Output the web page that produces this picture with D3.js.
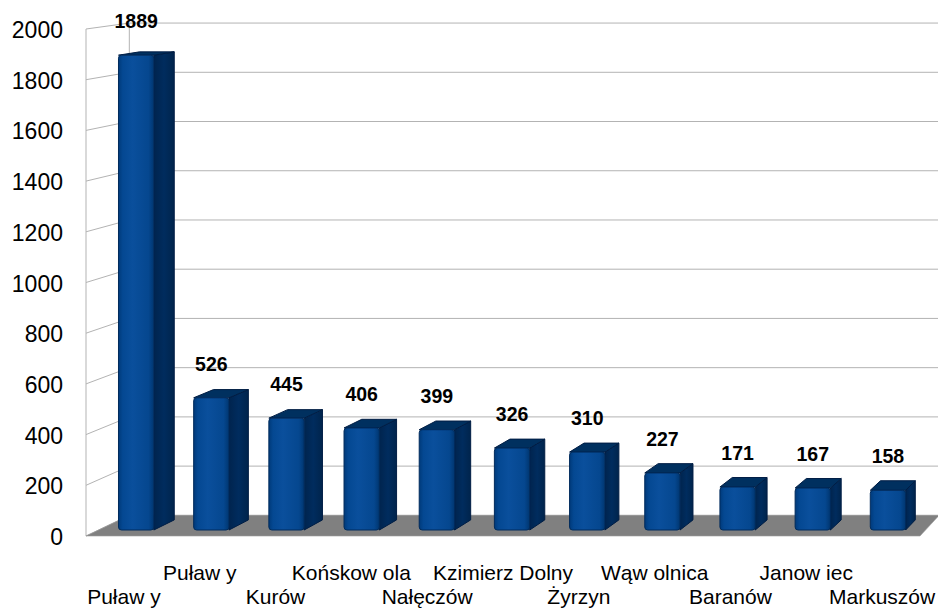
<!DOCTYPE html>
<html>
<head>
<meta charset="utf-8">
<script src="https://cdn.jsdelivr.net/npm/d3@7"></script>
<style>
  html, body { margin: 0; padding: 0; background: #fff; }
  svg { display: block; font-family: "Liberation Sans", Arial, sans-serif; }
</style>
</head>
<body>
<div id="chart"></div>
<script>
// data
const categories = ['Puław y', 'Puław y', 'Kurów', 'Końskow ola', 'Nałęczów', 'Kzimierz Dolny',
  'Żyrzyn', 'Wąw olnica', 'Baranów', 'Janow iec', 'Markuszów'];
const values = [1889, 526, 445, 406, 399, 326, 310, 227, 171, 167, 158];
const yTicks = [0, 200, 400, 600, 800, 1000, 1200, 1400, 1600, 1800, 2000];

const W = 938, H = 608;

// front plane of the 3D box + a simple perspective towards the back
const VP = { x: 1580, y: -176 };
const DEPTH = 0.029;
const BAR_Z = [0.29, 0.78];

function project(xf, yf, z) {
  const s = 1 - DEPTH * z;
  return [VP.x + s * (xf - VP.x), VP.y + s * (yf - VP.y)];
}

const x = d3.scaleBand()
  .domain(d3.range(categories.length))
  .range([86, 920])
  .paddingInner(0.53)
  .paddingOuter(0.265);

const y = d3.scaleLinear().domain([0, 2000]).range([536, 29]);

const svg = d3.select('#chart').append('svg')
  .attr('width', W)
  .attr('height', H);

const defs = svg.append('defs');
const gFront = defs.append('linearGradient').attr('id', 'barFront');
[['0%', '#003a7a'], ['12%', '#044892'], ['40%', '#0a4f9c'], ['85%', '#05478f'], ['100%', '#003670']]
  .forEach(([o, c]) => gFront.append('stop').attr('offset', o).attr('stop-color', c));
const gSide = defs.append('linearGradient').attr('id', 'barSide');
[['0%', '#00244e'], ['50%', '#002c5e'], ['100%', '#00244c']]
  .forEach(([o, c]) => gSide.append('stop').attr('offset', o).attr('stop-color', c));

const line = d3.line();
const poly = pts => line(pts) + 'Z';

// walls and grid
const grid = svg.append('g')
  .attr('stroke', '#b3b3b3')
  .attr('stroke-width', 1)
  .attr('fill', 'none');

const x0 = x.range()[0], x1 = x.range()[1];

grid.selectAll('.grid').data(yTicks)
  .join('path')
  .attr('class', 'grid')
  .attr('d', v => line([project(x0, y(v), 0), project(x0, y(v), 1), project(x1, y(v), 1)]));

grid.append('path').attr('d', line([project(x0, y(0), 0), project(x0, y(2000), 0)]));
grid.append('path').attr('d', line([project(x0, y(0), 1), project(x0, y(2000), 1)]));

// floor
svg.append('path')
  .attr('d', poly([project(x0, y(0), 0), project(x1, y(0), 0), project(x1, y(0), 1), project(x0, y(0), 1)]))
  .attr('fill', '#808080')
  .attr('stroke', '#9a9a9a')
  .attr('stroke-width', 0.6);

// bars
const bars = svg.append('g').selectAll('g').data(values).join('g');

bars.each(function (v, i) {
  const g = d3.select(this);
  const l = x(i), r = x(i) + x.bandwidth();
  const t = y(v), b = y(0);
  const [za, zb] = BAR_Z;
  const fl = project(l, t, za), fr = project(r, t, za);
  const fbr = project(r, b, za), fbl = project(l, b, za);
  const bl = project(l, t, zb), br = project(r, t, zb), bbr = project(r, b, zb);

  g.append('path')
    .attr('d', poly([fr, br, bbr, fbr]))
    .attr('fill', 'url(#barSide)')
    .attr('stroke', '#001d44')
    .attr('stroke-width', 1)
    .attr('stroke-linejoin', 'round');

  g.append('path')
    .attr('d', poly([fl, bl, br, fr]))
    .attr('fill', '#00305f')
    .attr('stroke', '#001d44')
    .attr('stroke-width', 1)
    .attr('stroke-linejoin', 'round');

  g.append('rect')
    .attr('x', fl[0])
    .attr('y', fl[1])
    .attr('width', fr[0] - fl[0])
    .attr('height', fbl[1] - fl[1])
    .attr('rx', 3)
    .attr('fill', 'url(#barFront)')
    .attr('stroke', '#002b5c')
    .attr('stroke-width', 1);
});

// value labels
svg.append('g').selectAll('text').data(values)
  .join('text')
  .attr('x', (v, i) => {
    const a = project(x(i), y(v), BAR_Z[0]), c = project(x(i) + x.bandwidth(), y(v), BAR_Z[0]);
    return (a[0] + c[0]) / 2;
  })
  .attr('y', (v, i) => project(x(i), y(v), BAR_Z[0])[1] - 27)
  .attr('text-anchor', 'middle')
  .attr('font-size', '19.5px')
  .attr('font-weight', 700)
  .attr('fill', '#000')
  .text(v => v);

// y axis labels
svg.append('g').selectAll('text').data(yTicks)
  .join('text')
  .attr('x', 63)
  .attr('y', v => y(v) + 1)
  .attr('dy', '0.35em')
  .attr('text-anchor', 'end')
  .attr('font-size', '23px')
  .attr('fill', '#000')
  .text(v => v);

// category labels, staggered on two rows
svg.append('g').selectAll('text').data(categories)
  .join('text')
  .attr('x', (d, i) => x(i) + x.bandwidth() / 2)
  .attr('y', (d, i) => i % 2 ? 580 : 604)
  .attr('text-anchor', 'middle')
  .attr('font-size', '21px')
  .attr('fill', '#000')
  .text(d => d);
</script>
</body>
</html>
